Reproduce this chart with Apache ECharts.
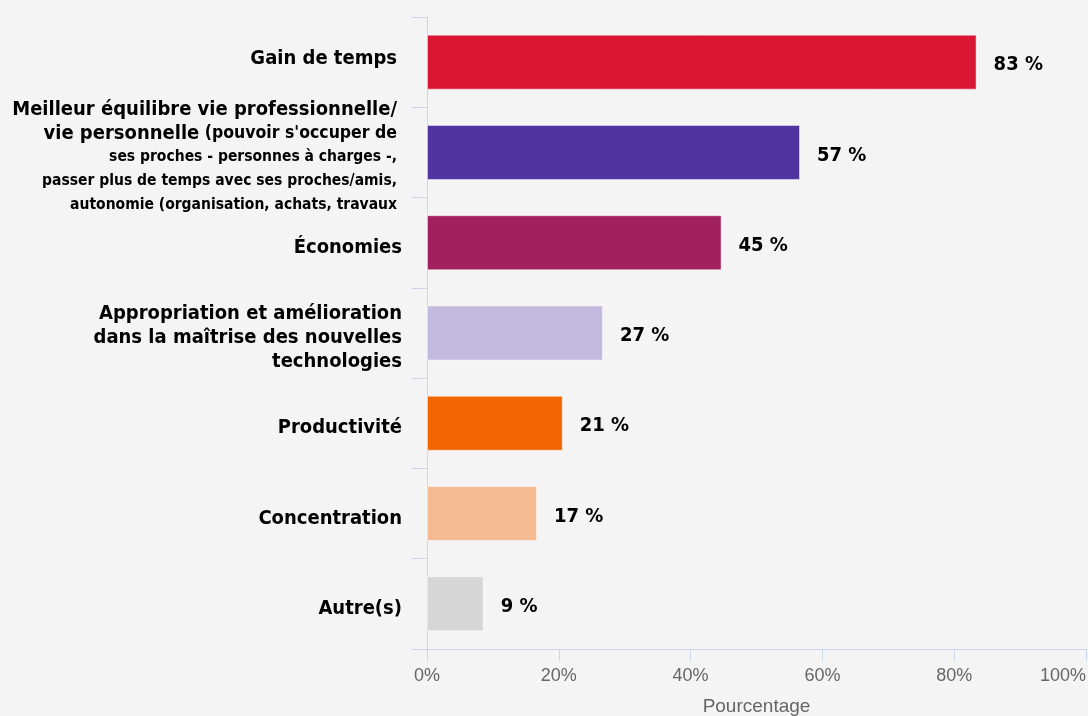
<!DOCTYPE html>
<html>
<head>
<meta charset="utf-8">
<script src="https://cdn.jsdelivr.net/npm/echarts@6/dist/echarts.min.js"></script>
<style>
html,body{margin:0;padding:0;background:#f4f4f4;}
#chart{width:1088px;height:716px;}
</style>
</head>
<body>
<div id="chart"></div>
<script>
const categories = [
  'Gain de temps',
  "Meilleur équilibre vie professionnelle/\nvie personnelle (pouvoir s'occuper de\nses proches - personnes à charges -,\npasser plus de temps avec ses proches/amis,\nautonomie (organisation, achats, travaux",
  'Économies',
  'Appropriation et amélioration\ndans la maîtrise des nouvelles\ntechnologies',
  'Productivité',
  'Concentration',
  'Autre(s)'
];
const values = [83.4, 56.6, 44.7, 26.7, 20.6, 16.7, 8.6];
const colors = ['#d91734', '#4f339f', '#a2205e', '#c2b9de', '#f26600', '#f4bb93', '#d6d6d6'];
const xTicks = [0, 20, 40, 60, 80, 100];
const xName = 'Pourcentage';

const condensed = '"Liberation Sans Narrow", "DejaVu Sans Condensed", sans-serif';

function catFormatter(value, index) {
  const lines = value.split('\n');
  if (lines.length === 5) {
    const second = lines[1];
    const cut = second.indexOf(' (');
    return '{big|' + lines[0] + '}\n{bigb|' + second.slice(0, cut) + '}{mid|' + second.slice(cut) + '}\n' +
      lines.slice(2).map(l => '{small|' + l + '}').join('\n');
  }
  const st = index === 0 ? 'first' : 'cat';
  return lines.map(l => '{' + st + '|' + l + '}').join('\n');
}

const base = {fontFamily: condensed, fontWeight: 'bold', color: '#000', lineHeight: 24, align: 'right'};

const chart = echarts.init(document.getElementById('chart'), null, {renderer: 'canvas'});
chart.setOption({
  backgroundColor: '#f4f4f4',
  animation: false,
  grid: {left: 427, right: 2, top: 17, bottom: 67, containLabel: false, outerBoundsMode: 'none'},
  xAxis: {
    type: 'value',
    min: xTicks[0],
    max: xTicks[xTicks.length - 1],
    interval: 20,
    name: xName,
    nameLocation: 'middle',
    nameGap: 48,
    nameTextStyle: {color: '#666666', fontSize: 19, fontFamily: '"Liberation Sans", Arial, sans-serif'},
    axisLine: {show: true, lineStyle: {color: '#ccd6eb', width: 1}},
    axisTick: {show: true, length: 12, lineStyle: {color: '#ccd6eb'}},
    splitLine: {show: false},
    axisLabel: {
      color: '#666666', fontSize: 18, margin: 18,
      fontFamily: '"Liberation Sans", Arial, sans-serif',
      formatter: v => v + '%',
      alignMaxLabel: 'right'
    }
  },
  yAxis: {
    type: 'category',
    data: categories,
    inverse: true,
    axisLine: {show: true, lineStyle: {color: '#ccd6eb', width: 1}},
    axisTick: {show: true, length: 15, lineStyle: {color: '#ccd6eb'}},
    axisLabel: {
      margin: 25,
      align: 'right',
      formatter: catFormatter,
      rich: {
        first: Object.assign({}, base, {fontSize: 20, padding: [0, 5, 6, 0]}),
        cat: Object.assign({}, base, {fontSize: 20, padding: [10, 0, 0, 0]}),
        big: Object.assign({}, base, {fontSize: 20, padding: [10, 5, 0, 0]}),
        bigb: Object.assign({}, base, {fontSize: 20, padding: [10, 0, 0, 0]}),
        mid: Object.assign({}, base, {fontSize: 17.5, padding: [10, 5, 0, 0]}),
        small: Object.assign({}, base, {fontSize: 15.5, padding: [10, 5, 0, 0]})
      }
    }
  },
  series: [{
    type: 'bar',
    data: values.map((v, i) => ({value: v, itemStyle: {color: colors[i]}})),
    barWidth: 55,
    itemStyle: {borderColor: 'rgba(255,255,255,0.45)', borderWidth: 1},
    label: {
      show: true,
      position: 'right',
      distance: 17,
      offset: [0, 3],
      formatter: p => Math.round(p.value) + ' %',
      fontFamily: condensed,
      fontWeight: 'bold',
      fontSize: 20,
      color: '#000'
    }
  }]
});
</script>
</body>
</html>
